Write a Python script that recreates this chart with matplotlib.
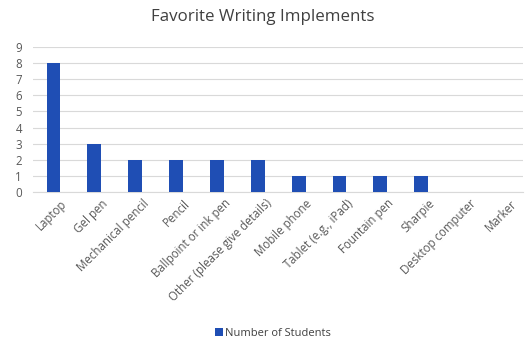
import matplotlib
matplotlib.use("Agg")
import matplotlib.pyplot as plt
from matplotlib.transforms import ScaledTranslation

categories = ["Laptop", "Gel pen", "Mechanical pencil", "Pencil",
              "Ballpoint or ink pen", "Other (please give details)",
              "Mobile phone", "Tablet (e.g., iPad)", "Fountain pen",
              "Sharpie", "Desktop computer", "Marker"]
students = [8, 3, 2, 2, 2, 2, 1, 1, 1, 1, 0, 0]

plt.rcParams["font.family"] = ["Open Sans", "DejaVu Sans"]

fig = plt.figure(figsize=(5.25, 3.4), dpi=100)
ax = fig.add_axes([0.063, 0.435, 0.934, 0.427])

x = range(len(categories))
ax.bar(x, students, width=0.34, color="#1f4eb4", label="Number of Students", zorder=3)

ax.set_xlim(-0.5, len(categories) - 0.5)
ax.set_ylim(0, 9)
ax.set_yticks(range(10))
ax.grid(axis="y", color="#d9d9d9", linewidth=0.8, zorder=0)
for s in ["top", "right", "left"]:
    ax.spines[s].set_visible(False)
ax.spines["bottom"].set_color("#d9d9d9")
ax.tick_params(length=0, labelsize=8.3, colors="#595959")
ax.tick_params(axis="y", pad=8)
ax.set_xticks(list(x))
ax.set_xticklabels(categories, rotation=45, ha="right", rotation_mode="anchor")
offset = ScaledTranslation(0.07, 0, fig.dpi_scale_trans)
for lbl in ax.get_xticklabels():
    lbl.set_transform(lbl.get_transform() + offset)

fig.text(0.5, 0.95, "Favorite Writing Implements", ha="center", va="center",
         fontsize=12.2, color="#404040")

fig.legend(loc="center", bbox_to_anchor=(0.52, 0.02), frameon=False,
           fontsize=8, handlelength=0.7, handleheight=0.7, handletextpad=0.2,
           labelcolor="#404040")

fig.savefig("out.png", dpi=100)
